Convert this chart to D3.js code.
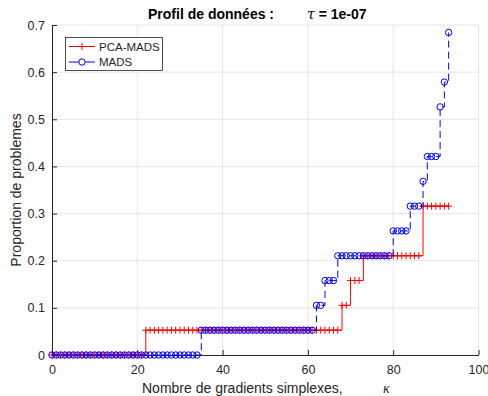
<!DOCTYPE html>
<html><head><meta charset="utf-8">
<script src="https://cdn.jsdelivr.net/npm/d3@7/dist/d3.min.js"></script>
<style>
body{margin:0;background:#fff}
svg{display:block;font-family:"Liberation Sans",Arial,Helvetica,sans-serif}
</style>
</head><body>
<svg id="chart" width="488" height="396"></svg>
<script>
// ---- data (proportion of problems solved vs kappa = index 0..93) ----
const seriesNames = ["PCA-MADS", "MADS"];
const pcaMads = [
  0,0,0,0,0,0,0,0,0,0,
  0,0,0,0,0,0,0,0,0,0,
  0,0,0.0526,0.0526,0.0526,0.0526,0.0526,0.0526,0.0526,0.0526,
  0.0526,0.0526,0.0526,0.0526,0.0526,0.0526,0.0526,0.0526,0.0526,0.0526,
  0.0526,0.0526,0.0526,0.0526,0.0526,0.0526,0.0526,0.0526,0.0526,0.0526,
  0.0526,0.0526,0.0526,0.0526,0.0526,0.0526,0.0526,0.0526,0.0526,0.0526,
  0.0526,0.0526,0.0526,0.0526,0.0526,0.0526,0.0526,0.0526,0.1053,0.1053,
  0.1579,0.1579,0.1579,0.2105,0.2105,0.2105,0.2105,0.2105,0.2105,0.2105,
  0.2105,0.2105,0.2105,0.2105,0.2105,0.2105,0.2105,0.3158,0.3158,0.3158,
  0.3158,0.3158,0.3158,0.3158
];
const mads = [
  0,0,0,0,0,0,0,0,0,0,
  0,0,0,0,0,0,0,0,0,0,
  0,0,0,0,0,0,0,0,0,0,
  0,0,0,0,0,0.0526,0.0526,0.0526,0.0526,0.0526,
  0.0526,0.0526,0.0526,0.0526,0.0526,0.0526,0.0526,0.0526,0.0526,0.0526,
  0.0526,0.0526,0.0526,0.0526,0.0526,0.0526,0.0526,0.0526,0.0526,0.0526,
  0.0526,0.0526,0.1053,0.1053,0.1579,0.1579,0.1579,0.2105,0.2105,0.2105,
  0.2105,0.2105,0.2105,0.2105,0.2105,0.2105,0.2105,0.2105,0.2105,0.2105,
  0.2632,0.2632,0.2632,0.2632,0.3158,0.3158,0.3158,0.3684,0.4211,0.4211,
  0.4211,0.5263,0.5789,0.6842
];
const xTicks = [0, 20, 40, 60, 80, 100];
const xTickLabels = ["0", "20", "40", "60", "80", "100"];
const yTicks = [0, 0.1, 0.2, 0.3, 0.4, 0.5, 0.6, 0.7];
const yTickLabels = ["0", "0.1", "0.2", "0.3", "0.4", "0.5", "0.6", "0.7"];
const titleMain = "Profil de données :";
const titleTau = "τ";
const titleRest = " = 1e-07";
const xLabel = "Nombre de gradients simplexes,";
const xLabelSym = "κ";
const yLabel = "Proportion de problemes";

// ---- layout ----
const L = 52, R = 478.5, T = 25, B = 355;
const axisColor = "#262626", gridColor = "#e6e6e6";
const svg = d3.select("#chart");
const x = d3.scaleLinear().domain([0, 100]).range([L, R]);
const y = d3.scaleLinear().domain([0, 0.7]).range([B, T]);

// grid
svg.append("g").selectAll("line").data(xTicks.filter(d => d > 0)).join("line")
  .attr("x1", d => x(d)).attr("x2", d => x(d)).attr("y1", T).attr("y2", B)
  .attr("stroke", gridColor).attr("stroke-width", 1);
svg.append("g").selectAll("line").data(yTicks.filter(d => d > 0)).join("line")
  .attr("x1", L).attr("x2", R).attr("y1", d => y(d)).attr("y2", d => y(d))
  .attr("stroke", gridColor).attr("stroke-width", 1);

// axes
const xAxis = d3.axisBottom(x).tickValues(xTicks).tickFormat((d, i) => xTickLabels[i])
  .tickSizeInner(-5).tickSizeOuter(0).tickPadding(10);
const yAxis = d3.axisLeft(y).tickValues(yTicks).tickFormat((d, i) => yTickLabels[i])
  .tickSizeInner(-5).tickSizeOuter(0).tickPadding(7);
const gx = svg.append("g").attr("transform", `translate(0,${B})`).call(xAxis);
const gy = svg.append("g").attr("transform", `translate(${L},0)`).call(yAxis);
[gx, gy].forEach(g => {
  g.select(".domain").attr("stroke", axisColor).attr("stroke-width", 1);
  g.selectAll(".tick line").attr("stroke", axisColor);
  g.selectAll(".tick text").attr("fill", axisColor).style("font-size", "12.5px")
    .style("font-family", '"Liberation Sans",Arial,sans-serif');
});

// series
const line = d3.line().x(d => x(d.k)).y(d => y(d.v)).curve(d3.curveStepAfter);
const pcaData = pcaMads.map((v, k) => ({k, v}));
const madsData = mads.map((v, k) => ({k, v}));

const red = "#ff0000", blue = "#0000ff";
const gP = svg.append("g");
gP.append("path").datum(pcaData).attr("d", line).attr("fill", "none")
  .attr("stroke", red).attr("stroke-width", 1);
gP.selectAll("path.m").data(pcaData).join("path").attr("class", "m")
  .attr("d", d => `M${x(d.k) - 3.5},${y(d.v)}h7M${x(d.k)},${y(d.v) - 3.5}v7`)
  .attr("stroke", red).attr("stroke-width", 1).attr("fill", "none");

const gM = svg.append("g");
gM.append("path").datum(madsData).attr("d", line).attr("fill", "none")
  .attr("stroke", blue).attr("stroke-width", 1).attr("stroke-dasharray", "7,4");
gM.selectAll("circle").data(madsData).join("circle")
  .attr("cx", d => x(d.k)).attr("cy", d => y(d.v)).attr("r", 3.2)
  .attr("fill", "none").attr("stroke", blue).attr("stroke-width", 1);

// title
const title = svg.append("g").attr("fill", "#000").style("font-size", "14px").style("font-weight", "bold");
title.append("text").attr("x", 148).attr("y", 19).text(titleMain);
const t2 = title.append("text").attr("x", 307).attr("y", 19);
t2.append("tspan").style("font-style", "italic").style("font-weight", "normal")
  .style("font-family", '"DejaVu Serif","Liberation Serif",serif').text(titleTau);
t2.append("tspan").text(titleRest);

// axis labels
svg.append("text").attr("x", 142).attr("y", 393).attr("fill", axisColor)
  .style("font-size", "14px").text(xLabel);
svg.append("text").attr("x", 383).attr("y", 393).attr("fill", axisColor)
  .style("font-size", "14px").style("font-style", "italic")
  .style("font-family", '"Liberation Serif","DejaVu Serif",serif').text(xLabelSym);
svg.append("text").attr("transform", `translate(21,${(T + B) / 2}) rotate(-90)`)
  .attr("text-anchor", "middle").attr("fill", axisColor)
  .style("font-size", "14px").text(yLabel);

// legend
const lg = svg.append("g");
lg.append("rect").attr("x", 65.5).attr("y", 37.5).attr("width", 97).attr("height", 33)
  .attr("fill", "#fff").attr("stroke", axisColor).attr("stroke-width", 0.8);
const legendItems = [{name: seriesNames[0], color: red, y: 46.5, mk: "plus"},
                     {name: seriesNames[1], color: blue, y: 62, mk: "circle"}];
legendItems.forEach(it => {
  lg.append("line").attr("x1", 69).attr("x2", 95).attr("y1", it.y).attr("y2", it.y)
    .attr("stroke", it.color).attr("stroke-width", 1);
  if (it.mk === "plus") {
    lg.append("path").attr("d", `M${82 - 3.5},${it.y}h7M82,${it.y - 3.5}v7`)
      .attr("stroke", it.color).attr("stroke-width", 1);
  } else {
    lg.append("circle").attr("cx", 82).attr("cy", it.y).attr("r", 3.2)
      .attr("fill", "#fff").attr("stroke", it.color).attr("stroke-width", 1);
  }
  lg.append("text").attr("x", 99).attr("y", it.y + 4.2).attr("fill", axisColor)
    .style("font-size", "11.5px").text(it.name);
});
</script>
</body></html>
